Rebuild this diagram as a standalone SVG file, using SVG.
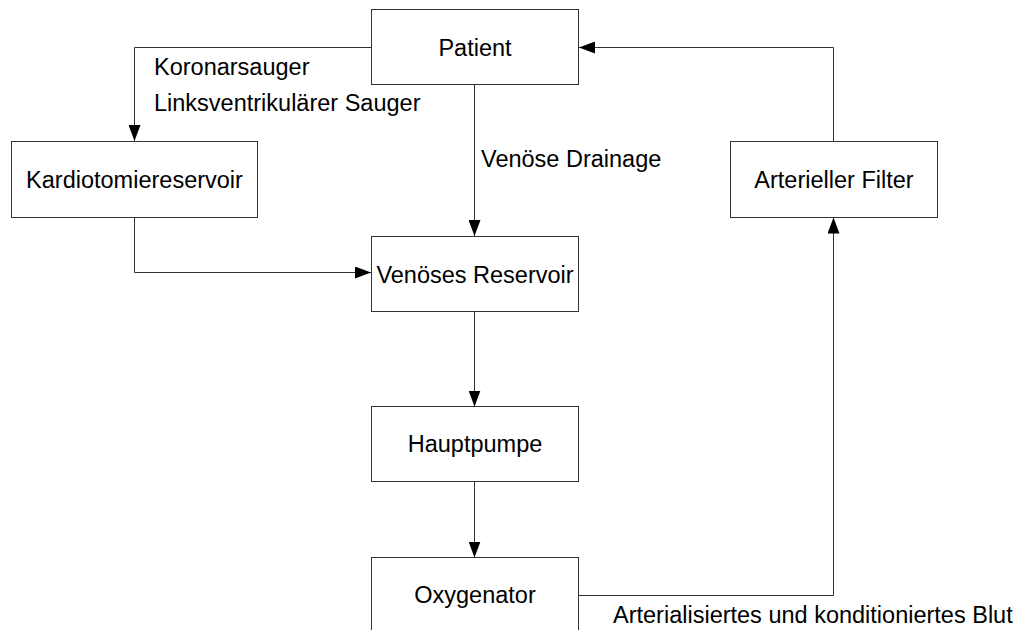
<svg xmlns="http://www.w3.org/2000/svg" width="1027" height="630" viewBox="0 0 1027 630">
<style>
.box{fill:#fff;stroke:#333;stroke-width:1}
.t{font-family:"Liberation Sans",Arial,sans-serif;font-size:23.5px;fill:#000}
.c{text-anchor:middle}
.ln{fill:none;stroke:#333;stroke-width:1}
</style>
<defs>
<marker id="arr" markerWidth="16" markerHeight="12" refX="16" refY="6" orient="auto" markerUnits="userSpaceOnUse">
<path d="M0,0 L16,6 L0,12 Z" fill="#000"/>
</marker>
</defs>
<rect width="1027" height="630" fill="#fff"/>
<g id="connectors">
<path class="ln" d="M371.5,47.5 H134.5 V141" marker-end="url(#arr)"/>
<path class="ln" d="M474.5,84.5 V236" marker-end="url(#arr)"/>
<path class="ln" d="M134.5,217.5 V272.5 H371" marker-end="url(#arr)"/>
<path class="ln" d="M474.5,311.5 V406.5" marker-end="url(#arr)"/>
<path class="ln" d="M474.5,481.5 V557.5" marker-end="url(#arr)"/>
<path class="ln" d="M578.5,595.5 H833.5 V217.5" marker-end="url(#arr)"/>
<path class="ln" d="M833.5,141.5 V47.5 H579" marker-end="url(#arr)"/>
<text class="t" x="154" y="75">Koronarsauger</text>
<text class="t" x="154" y="111">Linksventrikulärer Sauger</text>
<text class="t" x="481" y="167">Venöse Drainage</text>
<text class="t" x="613" y="623">Arterialisiertes und konditioniertes Blut</text>
</g>
<g id="patient"><rect class="box" x="371.5" y="9.5" width="207" height="75"/><text class="t c" x="475" y="56">Patient</text></g>
<g id="kardiotomiereservoir"><rect class="box" x="11.5" y="141.5" width="246" height="76"/><text class="t c" x="134.5" y="188">Kardiotomiereservoir</text></g>
<g id="venoeses-reservoir"><rect class="box" x="371.5" y="236.5" width="207" height="75"/><text class="t c" x="475" y="283">Venöses Reservoir</text></g>
<g id="hauptpumpe"><rect class="box" x="371.5" y="406.5" width="207" height="75"/><text class="t c" x="475" y="452">Hauptpumpe</text></g>
<g id="oxygenator"><rect class="box" x="371.5" y="557.5" width="207" height="80"/><text class="t c" x="475" y="603">Oxygenator</text></g>
<g id="arterieller-filter"><rect class="box" x="730.5" y="141.5" width="207" height="76"/><text class="t c" x="834" y="188">Arterieller Filter</text></g>
</svg>
